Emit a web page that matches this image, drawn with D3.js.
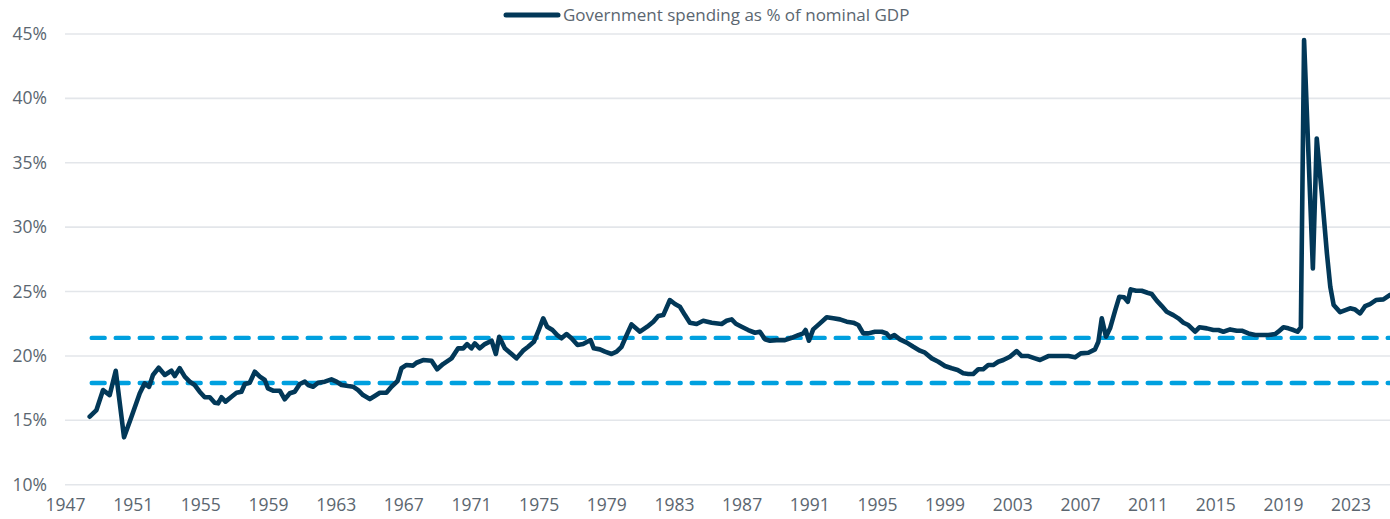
<!DOCTYPE html>
<html>
<head>
<meta charset="utf-8">
<script src="https://cdn.jsdelivr.net/npm/d3@7"></script>
<style>
  html, body { margin: 0; padding: 0; background: #fff; }
  svg { display: block; }
  text { font-family: "Open Sans", "Noto Sans", sans-serif; fill: #5b6670; }
</style>
</head>
<body>
<svg id="chart" width="1390" height="519"></svg>
<script>
// quarterly readings, decimal year and % of nominal GDP
const quarterYears = [
  1948.46, 1948.86, 1949.25, 1949.64, 1950.0, 1950.49, 1950.93, 1951.42, 1951.71, 1951.97,
  1952.2, 1952.54, 1952.9, 1953.29, 1953.49, 1953.78, 1954.08, 1954.37, 1954.67, 1954.96,
  1955.26, 1955.56, 1955.85, 1956.05, 1956.25, 1956.49, 1956.84, 1957.14, 1957.43, 1957.63,
  1957.92, 1958.22, 1958.52, 1958.81, 1959.0, 1959.3, 1959.7, 1959.99, 1960.29, 1960.58,
  1960.88, 1961.18, 1961.37, 1961.67, 1961.96, 1962.36, 1962.75, 1963.05, 1963.35, 1963.74,
  1964.03, 1964.33, 1964.62, 1965.02, 1965.31, 1965.61, 1966.0, 1966.3, 1966.66, 1966.89,
  1967.19, 1967.58, 1967.78, 1968.17, 1968.67, 1969.0, 1969.35, 1969.85, 1970.24, 1970.54,
  1970.77, 1971.03, 1971.23, 1971.52, 1971.82, 1972.22, 1972.47, 1972.67, 1973.0, 1973.4,
  1973.69, 1974.08, 1974.38, 1974.72, 1974.97, 1975.27, 1975.5, 1975.82, 1976.1, 1976.35,
  1976.65, 1976.94, 1977.3, 1977.63, 1978.07, 1978.26, 1978.62, 1978.92, 1979.31, 1979.61,
  1979.9, 1980.2, 1980.49, 1980.99, 1981.42, 1981.78, 1982.07, 1982.37, 1982.76, 1983.06,
  1983.35, 1983.65, 1983.94, 1984.34, 1984.73, 1985.23, 1985.82, 1986.11, 1986.41, 1986.66,
  1987.0, 1987.39, 1987.79, 1988.08, 1988.38, 1988.67, 1989.07, 1989.56, 1989.96, 1990.35,
  1990.64, 1990.78, 1990.98, 1991.23, 1991.63, 1992.03, 1992.42, 1992.81, 1993.21, 1993.6,
  1993.9, 1994.19, 1994.49, 1994.88, 1995.28, 1995.57, 1995.77, 1996.03, 1996.36, 1996.76,
  1997.15, 1997.54, 1997.84, 1998.24, 1998.63, 1999.02, 1999.42, 1999.77, 2000.1, 2000.4,
  2000.69, 2000.99, 2001.28, 2001.58, 2001.87, 2002.17, 2002.47, 2002.86, 2003.26, 2003.56,
  2003.95, 2004.34, 2004.64, 2005.13, 2005.63, 2006.02, 2006.32, 2006.71, 2007.05, 2007.5,
  2007.89, 2008.09, 2008.29, 2008.54, 2008.78, 2009.08, 2009.33, 2009.61, 2009.83, 2010.0,
  2010.32, 2010.65, 2010.99, 2011.24, 2011.54, 2011.84, 2012.13, 2012.52, 2012.82, 2013.12,
  2013.41, 2013.81, 2014.06, 2014.5, 2014.89, 2015.19, 2015.48, 2015.88, 2016.27, 2016.57,
  2016.96, 2017.36, 2017.75, 2018.14, 2018.54, 2018.73, 2019.03, 2019.32, 2019.62, 2019.86,
  2020.06, 2020.25, 2020.77, 2021.0, 2021.3, 2021.6, 2021.8, 2022.0, 2022.38, 2022.97,
  2023.27, 2023.56, 2023.86, 2024.15, 2024.5, 2024.94, 2025.33
];

const spendingPct = [
  15.28, 15.8, 17.35, 16.96, 18.85, 13.68, 15.28, 17.1, 17.87, 17.6,
  18.52, 19.08, 18.52, 18.85, 18.44, 19.04, 18.39, 18.0, 17.74, 17.22,
  16.79, 16.79, 16.37, 16.32, 16.79, 16.45, 16.83, 17.14, 17.22, 17.82,
  17.92, 18.77, 18.39, 18.13, 17.48, 17.3, 17.3, 16.63, 17.1, 17.22,
  17.82, 18.0, 17.74, 17.61, 17.92, 18.0, 18.18, 18.0, 17.74, 17.66,
  17.61, 17.35, 16.96, 16.65, 16.89, 17.14, 17.14, 17.61, 18.05, 19.04,
  19.3, 19.25, 19.47, 19.68, 19.63, 18.96, 19.37, 19.81, 20.59, 20.59,
  20.92, 20.59, 20.98, 20.59, 20.92, 21.18, 20.15, 21.49, 20.59, 20.15,
  19.81, 20.41, 20.71, 21.1, 21.88, 22.92, 22.27, 22.01, 21.62, 21.37,
  21.7, 21.37, 20.85, 20.92, 21.23, 20.59, 20.51, 20.33, 20.15, 20.33,
  20.71, 21.62, 22.45, 21.88, 22.27, 22.66, 23.1, 23.17, 24.34, 24.03,
  23.82, 23.17, 22.58, 22.48, 22.73, 22.58, 22.48, 22.73, 22.84, 22.5,
  22.27, 22.01, 21.8, 21.88, 21.29, 21.18, 21.23, 21.23, 21.41, 21.62,
  21.75, 22.01, 21.18, 22.06, 22.53, 23.0, 22.92, 22.84, 22.66, 22.58,
  22.4, 21.75, 21.75, 21.88, 21.88, 21.75, 21.44, 21.62, 21.29, 21.03,
  20.71, 20.41, 20.25, 19.81, 19.55, 19.22, 19.04, 18.91, 18.65, 18.6,
  18.6, 18.96, 18.96, 19.29, 19.29, 19.55, 19.68, 19.94, 20.38, 19.99,
  19.99, 19.81, 19.68, 19.99, 19.99, 20.0, 19.99, 19.89, 20.2, 20.25,
  20.51, 21.1, 22.92, 21.49, 22.14, 23.51, 24.6, 24.55, 24.21, 25.17,
  25.06, 25.06, 24.91, 24.81, 24.29, 23.87, 23.43, 23.17, 22.92, 22.58,
  22.4, 21.88, 22.22, 22.14, 22.01, 22.01, 21.88, 22.06, 21.96, 21.96,
  21.75, 21.62, 21.62, 21.62, 21.7, 21.88, 22.22, 22.14, 22.01, 21.88,
  22.22, 44.53, 26.8, 36.89, 32.6, 27.97, 25.37, 23.95, 23.4, 23.7,
  23.6, 23.3, 23.87, 24.03, 24.34, 24.39, 24.73
];

// the two dashed reference levels
const referenceLevels = [21.4, 17.9];

const yTicks = [10, 15, 20, 25, 30, 35, 40, 45];
const xTicks = d3.range(1947, 2024, 4);
const legendLabel = "Government spending as % of nominal GDP";

const svg = d3.select("#chart");
const width = 1390;
const margin = { top: 34, right: 0, bottom: 34, left: 65 };

const x = d3.scaleLinear()
  .domain([1947, 2025.33])
  .range([margin.left, width - margin.right]);

const y = d3.scaleLinear()
  .domain([10, 45])
  .range([484.7, margin.top]);

// gridlines
svg.append("g")
  .selectAll("line")
  .data(yTicks)
  .join("line")
  .attr("x1", x(1947))
  .attr("x2", width)
  .attr("y1", d => y(d))
  .attr("y2", d => y(d))
  .attr("stroke", "#e3e6ea")
  .attr("stroke-width", 1.6);

// y axis labels
const yAxis = d3.axisLeft(y)
  .tickValues(yTicks)
  .tickFormat(d => d + "%")
  .tickSize(0)
  .tickPadding(0);

svg.append("g")
  .attr("transform", "translate(47,0)")
  .call(yAxis)
  .call(g => g.select(".domain").remove())
  .call(g => g.selectAll("text")
    .attr("font-size", 17.5)
    .attr("font-family", null)
    .attr("fill", "#5b6670"));

// x axis labels
const xAxis = d3.axisBottom(x)
  .tickValues(xTicks)
  .tickFormat(d3.format("d"))
  .tickSize(0)
  .tickPadding(0);

svg.append("g")
  .attr("transform", "translate(0,499)")
  .call(xAxis)
  .call(g => g.select(".domain").remove())
  .call(g => g.selectAll("text")
    .attr("font-size", 17.5)
    .attr("font-family", null)
    .attr("fill", "#5b6670"));

// dashed reference lines
svg.append("g")
  .selectAll("line")
  .data(referenceLevels)
  .join("line")
  .attr("x1", x(quarterYears[0]) + 2)
  .attr("x2", width)
  .attr("y1", d => y(d))
  .attr("y2", d => y(d))
  .attr("stroke", "#00a0df")
  .attr("stroke-width", 4.4)
  .attr("stroke-linecap", "round")
  .attr("stroke-dasharray", "13,11");

// main series
const series = quarterYears.map((yr, i) => [yr, spendingPct[i]]);
const line = d3.line()
  .x(d => x(d[0]))
  .y(d => y(d[1]));

svg.append("path")
  .datum(series)
  .attr("d", line)
  .attr("fill", "none")
  .attr("stroke", "#023858")
  .attr("stroke-width", 4.6)
  .attr("stroke-linejoin", "round")
  .attr("stroke-linecap", "round");

// legend
const legend = svg.append("g").attr("transform", "translate(504,15)");
legend.append("line")
  .attr("x1", 2)
  .attr("x2", 54)
  .attr("stroke", "#023858")
  .attr("stroke-width", 5)
  .attr("stroke-linecap", "round");
legend.append("text")
  .attr("x", 59)
  .attr("y", 0)
  .attr("dy", "0.35em")
  .attr("font-size", 17)
  .text(legendLabel);
</script>
</body>
</html>
